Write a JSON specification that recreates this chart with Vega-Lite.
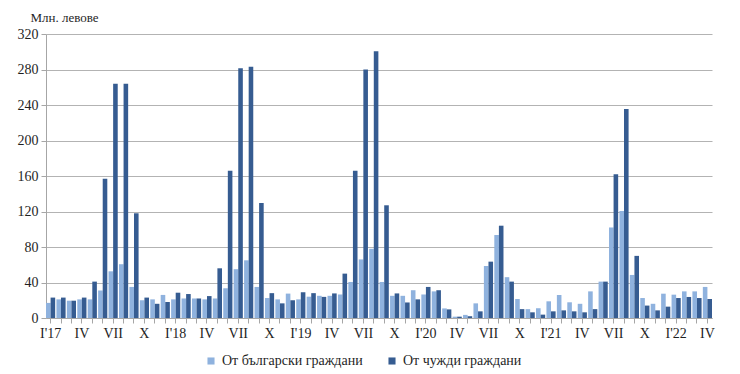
{
  "$schema": "https://vega.github.io/schema/vega-lite/v6.json",
  "width": 666,
  "height": 284,
  "autosize": {"type": "none"},
  "padding": {"left": 46, "top": 34, "right": 28, "bottom": 56},
  "background": "white",
  "data": {"values": [
    {"month":"2017-01","bg":17,"fg":23},{"month":"2017-02","bg":21,"fg":23},{"month":"2017-03","bg":19.5,"fg":19.5},{"month":"2017-04","bg":21,"fg":23},{"month":"2017-05","bg":21,"fg":41},{"month":"2017-06","bg":31,"fg":157},{"month":"2017-07","bg":52.6,"fg":264},{"month":"2017-08","bg":60.6,"fg":264},{"month":"2017-09","bg":35,"fg":118},{"month":"2017-10","bg":20,"fg":23},{"month":"2017-11","bg":21,"fg":16},{"month":"2017-12","bg":26,"fg":18},
    {"month":"2018-01","bg":21,"fg":28.5},{"month":"2018-02","bg":22,"fg":27},{"month":"2018-03","bg":22,"fg":22},{"month":"2018-04","bg":21,"fg":24.7},{"month":"2018-05","bg":22,"fg":56},{"month":"2018-06","bg":33.5,"fg":166},{"month":"2018-07","bg":55,"fg":281.5},{"month":"2018-08","bg":65,"fg":283},{"month":"2018-09","bg":35,"fg":129.6},{"month":"2018-10","bg":22.5,"fg":28},{"month":"2018-11","bg":21,"fg":16.5},{"month":"2018-12","bg":27.5,"fg":20},
    {"month":"2019-01","bg":21,"fg":29},{"month":"2019-02","bg":24,"fg":28},{"month":"2019-03","bg":25,"fg":23.8},{"month":"2019-04","bg":25,"fg":27.7},{"month":"2019-05","bg":26.5,"fg":50},{"month":"2019-06","bg":40.6,"fg":166},{"month":"2019-07","bg":66,"fg":280},{"month":"2019-08","bg":78,"fg":300.5},{"month":"2019-09","bg":40.6,"fg":127},{"month":"2019-10","bg":25,"fg":27.7},{"month":"2019-11","bg":25,"fg":17.5},{"month":"2019-12","bg":31.3,"fg":21},
    {"month":"2020-01","bg":26.5,"fg":35},{"month":"2020-02","bg":30,"fg":31.3},{"month":"2020-03","bg":10.8,"fg":9.7},{"month":"2020-04","bg":1.5,"fg":1.5},{"month":"2020-05","bg":3.5,"fg":2},{"month":"2020-06","bg":16.5,"fg":7.5},{"month":"2020-07","bg":58.6,"fg":63.5},{"month":"2020-08","bg":93.5,"fg":104},{"month":"2020-09","bg":46,"fg":41},{"month":"2020-10","bg":21.4,"fg":10},{"month":"2020-11","bg":10,"fg":6.4},{"month":"2020-12","bg":11,"fg":3.8},
    {"month":"2021-01","bg":18.8,"fg":7.5},{"month":"2021-02","bg":26,"fg":8.6},{"month":"2021-03","bg":17.7,"fg":7.5},{"month":"2021-04","bg":16,"fg":6.4},{"month":"2021-05","bg":30,"fg":10},{"month":"2021-06","bg":41,"fg":41},{"month":"2021-07","bg":102,"fg":162},{"month":"2021-08","bg":120.6,"fg":235.5},{"month":"2021-09","bg":48.5,"fg":70},{"month":"2021-10","bg":22.5,"fg":14},{"month":"2021-11","bg":16,"fg":8.6},{"month":"2021-12","bg":27.4,"fg":12.8},
    {"month":"2022-01","bg":26.3,"fg":22.5},{"month":"2022-02","bg":30,"fg":23.7},{"month":"2022-03","bg":30,"fg":22.5},{"month":"2022-04","bg":35,"fg":21.4}
  ]},
  "transform": [
    {"fold": ["bg", "fg"], "as": ["series", "amount"]}
  ],
  "mark": {"type": "bar"},
  "encoding": {
    "x": {
      "field": "month", "type": "ordinal", "sort": null,
      "scale": {"paddingInner": 0.12, "paddingOuter": 0},
      "axis": {
        "title": null,
        "labelAngle": 0,
        "labelExpr": "slice(datum.value,5)=='01' ? \"I'\" + slice(datum.value,2,4) : slice(datum.value,5)=='04' ? 'IV' : slice(datum.value,5)=='07' ? 'VII' : slice(datum.value,5)=='10' ? 'X' : ''",
        "tickSize": 5,
        "tickColor": "#a6a6a6",
        "domainColor": "#a6a6a6",
        "labelFont": "Liberation Serif",
        "labelFontSize": 14,
        "labelColor": "#1f1f1f",
        "labelPadding": 3,
        "labelOverlap": false,
        "grid": false
      }
    },
    "xOffset": {"field": "series", "type": "nominal"},
    "y": {
      "field": "amount", "type": "quantitative",
      "scale": {"domain": [0, 320], "nice": false},
      "axis": {
        "values": [0, 40, 80, 120, 160, 200, 240, 280, 320],
        "title": "Млн. левове",
        "titleAngle": 0,
        "titleAlign": "left",
        "titleBaseline": "bottom",
        "titleX": -16,
        "titleY": -10,
        "titleFont": "Liberation Serif",
        "titleFontSize": 13,
        "titleFontWeight": "normal",
        "titleColor": "#1f1f1f",
        "labelFont": "Liberation Serif",
        "labelFontSize": 14,
        "labelColor": "#1f1f1f",
        "labelPadding": 3,
        "gridColor": "#b3b3b3",
        "gridWidth": 1,
        "domainColor": "#a6a6a6",
        "tickColor": "#a6a6a6",
        "tickSize": 5
      }
    },
    "color": {
      "field": "series", "type": "nominal",
      "scale": {"domain": ["bg", "fg"], "range": ["#8fb2de", "#365c91"]},
      "legend": {
        "title": null,
        "orient": "none",
        "legendX": 158,
        "legendY": 320,
        "direction": "horizontal",
        "labelExpr": "datum.label == 'bg' ? 'От български граждани' : 'От чужди граждани'",
        "symbolType": "square",
        "symbolSize": 50,
        "labelFont": "Liberation Serif",
        "labelFontSize": 14,
        "labelColor": "#1f1f1f",
        "columnPadding": 22
      }
    }
  },
  "config": {
    "view": {"stroke": null}
  }
}
